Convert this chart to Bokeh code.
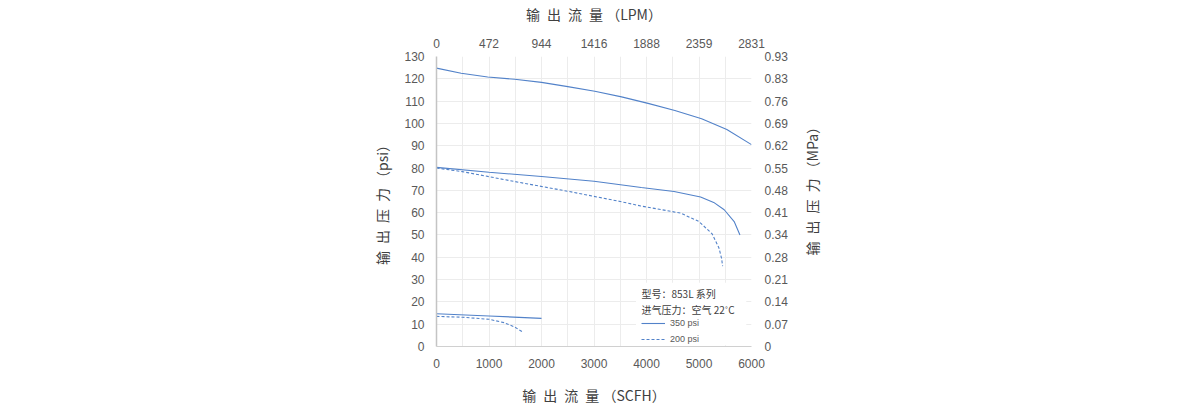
import math
from bokeh.plotting import figure
from bokeh.models import (Range1d, LinearAxis, FixedTicker, Legend, LegendItem,
                          Label, BoxAnnotation)
from bokeh.embed import file_html
from bokeh.resources import INLINE

# ---------------- data ----------------
scfh_ticks = [0, 1000, 2000, 3000, 4000, 5000, 6000]
lpm_labels = ["0", "472", "944", "1416", "1888", "2359", "2831"]
psi_ticks = [0, 10, 20, 30, 40, 50, 60, 70, 80, 90, 100, 110, 120, 130]
mpa_labels = ["0", "0.07", "0.14", "0.21", "0.28", "0.34", "0.41", "0.48",
              "0.55", "0.62", "0.69", "0.76", "0.83", "0.93"]

# 350 psi inlet, set ~125 psi
flow_350_125 = [0, 470, 975, 1490, 2000, 2500, 3015, 3525, 4030, 4540, 5050, 5530, 6000]
pres_350_125 = [124.8, 122.5, 120.8, 119.8, 118.4, 116.5, 114.4, 111.9, 109.0, 105.8, 102.1, 97.3, 90.5]

# 350 psi inlet, set ~80 psi
flow_350_80 = [0, 1000, 2000, 3000, 3900, 4525, 5030, 5280, 5480, 5670, 5780]
pres_350_80 = [80.3, 78.1, 76.2, 74.1, 71.3, 69.5, 67.0, 64.6, 61.3, 56.0, 50.0]

# 200 psi inlet, set ~80 psi
flow_200_80 = [0, 490, 1500, 2520, 3500, 3890, 4650, 5000, 5250, 5380, 5430, 5450]
pres_200_80 = [80.0, 78.4, 73.9, 69.5, 65.0, 63.0, 59.8, 56.0, 50.5, 44.2, 39.5, 36.0]

# 350 psi inlet, set ~15 psi
flow_350_15 = [0, 1000, 2000]
pres_350_15 = [14.7, 13.7, 12.6]

# 200 psi inlet, set ~15 psi
flow_200_15 = [0, 500, 1000, 1285, 1475, 1630]
pres_200_15 = [13.5, 13.1, 12.2, 10.7, 8.9, 6.7]

legend_head = ["型号：853L 系列", "进气压力：空气 22˚C"]
legend_names = ["350 psi", "200 psi"]

SP = "\u2002"
title_top = SP.join(["输", "出", "流", "量"]) + " （LPM）"
title_bottom = SP.join(["输", "出", "流", "量"]) + " （SCFH）"
title_left = SP.join(["输", "出", "压", "力"]) + " （psi）"
title_right = SP.join(["输", "出", "压", "力"]) + " （MPa）"

# ---------------- styling ----------------
LINE = "#5282c9"
TICK_FONT = "Liberation Sans"
CJK = "Noto Sans CJK SC"
TICK_COLOR = "#595959"
TITLE_COLOR = "#404040"

p = figure(width=1191, height=408, output_backend="svg", toolbar_location=None,
           x_range=Range1d(0, 6000), y_range=Range1d(0, 130),
           min_border_left=436, min_border_right=440,
           min_border_top=56, min_border_bottom=62)
p.outline_line_color = None
p.background_fill_color = "white"

r1 = p.line(flow_350_125, pres_350_125, line_color=LINE, line_width=1.1)
r2 = p.line(flow_350_80, pres_350_80, line_color=LINE, line_width=1.1)
r3 = p.line(flow_200_80, pres_200_80, line_color=LINE, line_width=1.1, line_dash="3 2")
r4 = p.line(flow_350_15, pres_350_15, line_color=LINE, line_width=1.1)
r5 = p.line(flow_200_15, pres_200_15, line_color=LINE, line_width=1.1, line_dash="3 2")

# grids
p.xgrid.ticker = FixedTicker(ticks=list(range(0, 6001, 500)))
p.ygrid.ticker = FixedTicker(ticks=psi_ticks)
for g in (p.xgrid, p.ygrid):
    g.grid_line_color = "#ececec"
    g.grid_line_width = 1


def style_axis(ax, label, standoff, label_standoff):
    ax.axis_label = label
    ax.axis_label_text_font = CJK
    ax.axis_label_text_font_size = "14px"
    ax.axis_label_text_font_style = "normal"
    ax.axis_label_text_color = TITLE_COLOR
    ax.axis_label_standoff = label_standoff
    ax.major_label_text_font = TICK_FONT
    ax.major_label_text_font_size = "12px"
    ax.major_label_text_color = TICK_COLOR
    ax.major_label_standoff = standoff
    ax.major_tick_out = 0
    ax.major_tick_in = 0
    ax.minor_tick_out = 0
    ax.minor_tick_in = 0


# bottom axis
xb = p.xaxis[0]
xb.ticker = FixedTicker(ticks=scfh_ticks)
style_axis(xb, title_bottom, 12, 14)
xb.axis_line_color = "#d0d0d0"

# left axis
yl = p.yaxis[0]
yl.ticker = FixedTicker(ticks=psi_ticks)
style_axis(yl, title_left, 12, 9)
yl.axis_line_color = "#c4c4c4"
yl.axis_line_width = 1.5

# top axis
xt = LinearAxis(ticker=FixedTicker(ticks=scfh_ticks),
                major_label_overrides={t: s for t, s in zip(scfh_ticks, lpm_labels)})
style_axis(xt, title_top, 9, 12)
xt.axis_line_color = None
p.add_layout(xt, "above")

# right axis (title reads bottom-to-top like the left one)
yr = LinearAxis(ticker=FixedTicker(ticks=psi_ticks),
                major_label_overrides={t: s for t, s in zip(psi_ticks, mpa_labels)})
yr.axis_line_color = None
try:
    yr.axis_label_align = "start"
    style_axis(yr, "\u2003" * 6 + "\u2002" + title_right, 13, 21)
    yr.axis_label_orientation = math.pi / 2
except Exception:
    style_axis(yr, title_right, 13, 20)
p.add_layout(yr, "right")

# legend area
p.add_layout(BoxAnnotation(left=3800, right=5900, bottom=0.6, top=28.6,
                           fill_color="white", fill_alpha=1.0, line_color=None))
p.add_layout(Label(x=3905, y=23.8, text=legend_head[0], text_font=CJK,
                   text_font_size="10px", text_color=TITLE_COLOR,
                   text_baseline="middle"))
p.add_layout(Label(x=3905, y=16.6, text=legend_head[1], text_font=CJK,
                   text_font_size="10px", text_color=TITLE_COLOR,
                   text_baseline="middle"))

legend = Legend(items=[LegendItem(label=legend_names[0], renderers=[r2]),
                       LegendItem(label=legend_names[1], renderers=[r3])],
                location=(204, 0), orientation="vertical",
                padding=1, margin=0, spacing=4,
                glyph_width=24, glyph_height=12, label_height=12,
                label_standoff=5,
                label_text_font=TICK_FONT, label_text_font_size="9px",
                label_text_color=TICK_COLOR,
                border_line_alpha=0, background_fill_color="white",
                background_fill_alpha=1.0)
p.add_layout(legend, "center")

open("out.html", "w").write(file_html(p, INLINE))
